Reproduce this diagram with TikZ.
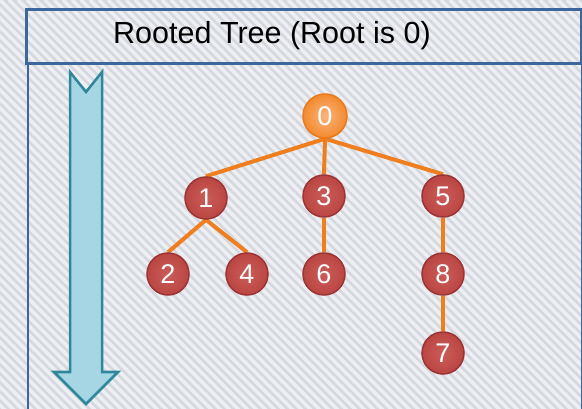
\documentclass[tikz,border=0pt]{standalone}
\usepackage{fontspec}
\setmainfont{Liberation Sans}

\definecolor{bgbase}{HTML}{D5D9DF}
\definecolor{frameblue}{HTML}{3D669C}
\definecolor{redEdge}{HTML}{9C3434}
\definecolor{redIn}{HTML}{CB5C59}
\definecolor{redOut}{HTML}{BA4643}
\definecolor{orEdge}{HTML}{EC781C}
\definecolor{orIn}{HTML}{F9B47E}
\definecolor{orOut}{HTML}{F38A2E}
\definecolor{linkorange}{HTML}{EF7E1E}
\definecolor{arrowfill}{HTML}{A6D6E3}
\definecolor{arrowedge}{HTML}{2F879C}

\pgfdeclarelayer{texture}
\pgfdeclarelayer{links}
\pgfsetlayers{texture,links,main}

\begin{document}
\begin{tikzpicture}[x=1pt, y=-1pt,
  vtx/.style={circle, minimum size=42pt, inner sep=0pt, line width=1.5pt,
    draw=redEdge, inner color=redIn, outer color=redOut, text=white,
    font=\fontsize{27}{27}\selectfont},
  rootvtx/.style={vtx, minimum size=44pt, draw=orEdge, inner color=orIn, outer color=orOut},
  link/.style={draw=linkorange, line width=4pt},
  stripe/.style={draw=white, opacity=0.6, line width=3.4pt},
  frame/.style={draw=frameblue, inner sep=0pt}]

\useasboundingbox (0,0) rectangle (582,409);

% textured backdrop
\begin{pgfonlayer}{texture}
  \begin{scope}
    \clip (0,0) rectangle (582,409);
    \fill[bgbase] (0,0) rectangle (582,409);
    \foreach \k in {-423,-414,...,590}
      \draw[stripe] (\k,0) -- ++(430,430);
  \end{scope}
\end{pgfonlayer}

% heading box and panel
\node[frame, line width=1.8pt, anchor=north west, minimum width=554pt, minimum height=360pt] (panel) at (27,62) {};
\node[frame, line width=2.6pt, anchor=north west, minimum width=555pt, minimum height=54pt] (titlebox) at (25,8) {};
\node[font=\fontsize{30.5}{32}\selectfont, inner sep=0pt] (title) at (272,36) {Rooted Tree (Root is 0)};

% downward arrow with notched tail
\draw[fill=arrowfill, draw=arrowedge, line width=2.5pt, line join=miter]
  (70,72) -- (86,92) -- (102,72) -- (102,372) -- (118,372) -- (86,404)
  -- (54,372) -- (70,372) -- cycle;

% vertices
\node[rootvtx] (n0) at (325,116) {0};
\node[vtx] (n1) at (206,198) {1};
\node[vtx] (n3) at (324,196) {3};
\node[vtx] (n5) at (443,196) {5};
\node[vtx] (n2) at (168,274) {2};
\node[vtx] (n4) at (247,274) {4};
\node[vtx] (n6) at (324,274) {6};
\node[vtx] (n8) at (443,274) {8};
\node[vtx] (n7) at (443,353) {7};

% tree edges
\begin{pgfonlayer}{links}
  \draw[link] (n0.south) -- (n1.north);
  \draw[link] (n0.south) -- (n3.north);
  \draw[link] (n0.south) -- (n5.north);
  \draw[link] (n1.south) -- (n2.north);
  \draw[link] (n1.south) -- (n4.north);
  \draw[link] (n3.south) -- (n6.north);
  \draw[link] (n5.south) -- (n8.north);
  \draw[link] (n8.south) -- (n7.north);
\end{pgfonlayer}
\end{tikzpicture}
\end{document}
